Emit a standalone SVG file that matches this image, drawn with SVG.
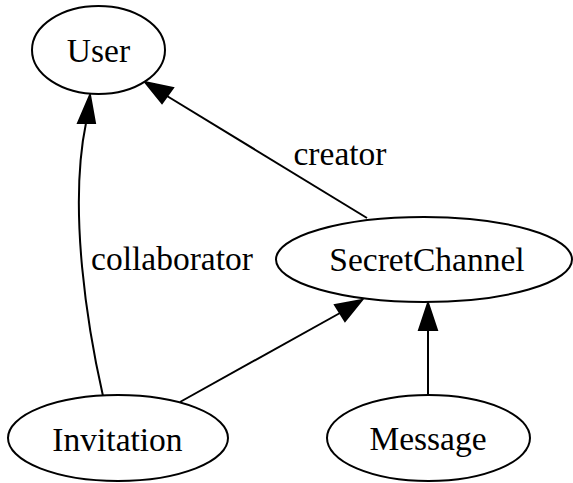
<svg xmlns="http://www.w3.org/2000/svg" width="573" height="483" viewBox="0 0 573 483">
<style>
.node ellipse{fill:#fff;stroke:#000;stroke-width:2}
text{font-family:"Liberation Serif","Times New Roman",serif;font-size:33.5px;fill:#000;text-anchor:middle}
.edge path{fill:none;stroke:#000;stroke-width:2}
.edge polygon{fill:#000;stroke:#000;stroke-width:2}
</style>
<rect width="573" height="483" fill="#fff"/>
<g id="edges">
<g class="edge" id="e-collab">
<path d="M103,396 C88,330 68,210 86,123"/>
<polygon points="78,123 95,123 90,95"/>
<text x="172" y="270">collaborator</text>
</g>
<g class="edge" id="e-creator">
<path d="M367,218 L167,96"/>
<polygon points="173,88 162,103 145,82"/>
<text x="340" y="165">creator</text>
</g>
<g class="edge" id="e-inv-sc">
<path d="M180,402 L340,313"/>
<polygon points="335,305 345,321 362,300"/>
</g>
<g class="edge" id="e-msg-sc">
<path d="M428,395 L428,330"/>
<polygon points="419,330 437,330 428,303"/>
</g>
</g>
<g class="node" id="User">
<ellipse cx="98.5" cy="50" rx="66.5" ry="44"/>
<text x="98.5" y="62">User</text>
</g>
<g class="node" id="SecretChannel">
<ellipse cx="424" cy="259.5" rx="148" ry="42.5"/>
<text x="427" y="271">SecretChannel</text>
</g>
<g class="node" id="Invitation">
<ellipse cx="118" cy="438" rx="110" ry="43"/>
<text x="117.5" y="451">Invitation</text>
</g>
<g class="node" id="Message">
<ellipse cx="428.5" cy="438" rx="101.5" ry="43"/>
<text x="428" y="450">Message</text>
</g>
</svg>
